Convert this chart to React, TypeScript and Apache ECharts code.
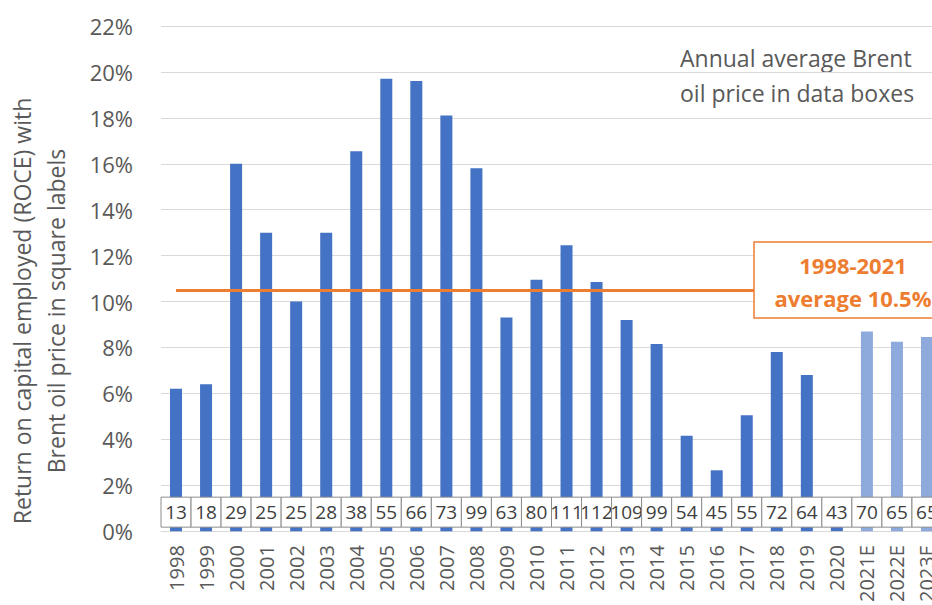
import React, { useEffect, useRef } from "react";
import * as echarts from "echarts";

const years = [
  "1998", "1999", "2000", "2001", "2002", "2003", "2004", "2005", "2006",
  "2007", "2008", "2009", "2010", "2011", "2012", "2013", "2014", "2015",
  "2016", "2017", "2018", "2019", "2020", "2021E", "2022E", "2023E",
];
const roce = [
  6.2, 6.4, 16.0, 13.0, 10.0, 13.0, 16.55, 19.7, 19.6, 18.1, 15.8, 9.3,
  10.95, 12.45, 10.85, 9.2, 8.15, 4.15, 2.65, 5.05, 7.8, 6.8, 1.2, 8.7, 8.25, 8.45,
];
const brent = [
  13, 18, 29, 25, 25, 28, 38, 55, 66, 73, 99, 63, 80, 111, 112, 109, 99, 54,
  45, 55, 72, 64, 43, 70, 65, 65,
];
const avgRoce = 10.5;
const avgLabel = ["1998-2021", "average 10.5%"];
const yTicks = { min: 0, max: 22, interval: 2 };
const yTitle = ["Return on capital employed (ROCE) with", "Brent oil price in square labels"];
const noteText = ["Annual average Brent", "oil price in data boxes"];

const FONT = "'Open Sans', 'Noto Sans', sans-serif";
const GREY = "#595959";

export default function App() {
  const ref = useRef<HTMLDivElement>(null);
  useEffect(() => {
    if (!ref.current) return;
    const chart = echarts.init(ref.current, undefined, { renderer: "svg" });
    const barData = roce.map((v, i) => ({
      value: v,
      itemStyle: { color: years[i].endsWith("E") ? "#8EA9DB" : "#4472C4" },
    }));
    const boxData = brent.map((v, i) => [i, v]);
    chart.setOption({
      animation: false,
      textStyle: { fontFamily: FONT },
      grid: { left: 161, top: 26, width: 781, height: 510, containLabel: false },
      xAxis: {
        type: "category",
        data: years,
        axisLine: { show: true, lineStyle: { color: "#d9d9d9", width: 1 } },
        axisTick: { show: false },
        axisLabel: {
          rotate: 90,
          margin: 14,
          fontSize: 20,
          color: GREY,
          fontFamily: FONT,
          interval: 0,
        },
      },
      yAxis: {
        type: "value",
        min: yTicks.min,
        max: yTicks.max,
        interval: yTicks.interval,
        axisLine: { show: false },
        axisTick: { show: false },
        splitLine: { lineStyle: { color: "#d9d9d9", width: 1 } },
        axisLabel: {
          formatter: "{value}%",
          fontSize: 22,
          color: GREY,
          margin: 28,
          fontFamily: FONT,
        },
      },
      series: [
        {
          type: "bar",
          data: barData,
          barWidth: 12,
          z: 2,
          markLine: {
            silent: true,
            symbol: "none",
            label: { show: false },
            lineStyle: { color: "#ED7D31", width: 3, type: "solid" },
            data: [
              [
                { coord: [years[0], avgRoce] },
                { coord: [years[years.length - 1], avgRoce] },
              ],
            ],
          },
        },
        {
          type: "custom",
          z: 5,
          data: boxData,
          encode: { x: 0, y: 1 },
          clip: false,
          renderItem: (params: any, api: any) => {
            const idx = api.value(0);
            const p = api.coord([idx, 0]);
            const w = api.size([1, 0])[0];
            const x0 = p[0] - w / 2;
            return {
              type: "group",
              children: [
                {
                  type: "rect",
                  shape: { x: x0, y: p[1] - 34, width: w, height: 30 },
                  style: { fill: "#ffffff", stroke: "#8c8c8c", lineWidth: 1 },
                },
                {
                  type: "text",
                  style: {
                    x: p[0],
                    y: p[1] - 19,
                    text: String(api.value(1)),
                    fill: "#404040",
                    font: `19px ${FONT}`,
                    align: "center",
                    verticalAlign: "middle",
                  },
                },
              ],
            };
          },
        },
      ],
      graphic: [
        {
          type: "text",
          x: 39,
          y: 311,
          rotation: Math.PI / 2,
          style: {
            text: yTitle.join("\n"),
            fill: GREY,
            font: `23px ${FONT}`,
            align: "center",
            verticalAlign: "middle",
            lineHeight: 34,
          },
        },
        {
          type: "text",
          x: 680,
          y: 40,
          style: {
            text: noteText.join("\n"),
            fill: GREY,
            font: `23px ${FONT}`,
            align: "left",
            verticalAlign: "top",
            lineHeight: 35,
          },
        },
        {
          type: "rect",
          z: 10,
          shape: { x: 754, y: 242, width: 200, height: 76 },
          style: { fill: "#ffffff", stroke: "#ED7D31", lineWidth: 1.5 },
        },
        {
          type: "text",
          z: 11,
          x: 853,
          y: 281,
          style: {
            text: avgLabel.join("\n"),
            fill: "#ED7D31",
            font: `bold 22px ${FONT}`,
            align: "center",
            verticalAlign: "middle",
            lineHeight: 33,
          },
        },
      ],
    });
    return () => chart.dispose();
  }, []);
  return (
    <div
      style={{
        position: "absolute",
        left: 0,
        top: 0,
        width: 932,
        height: 605,
        overflow: "hidden",
        background: "#ffffff",
      }}
    >
      <div ref={ref} style={{ width: 960, height: 605 }} />
    </div>
  );
}
